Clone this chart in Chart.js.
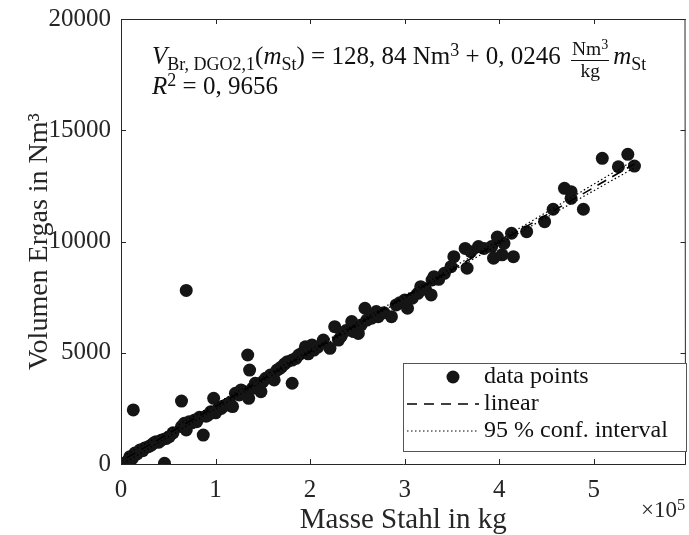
<!DOCTYPE html>
<html>
<head>
<meta charset="utf-8">
<script src="https://cdn.jsdelivr.net/npm/chart.js@4.4.1/dist/chart.umd.min.js"></script>
<style>
  html, body { margin: 0; padding: 0; background: #fff; overflow: hidden; }
  #wrap { position: relative; width: 689px; height: 535px; overflow: hidden; }
  #chart { position: absolute; left: 0; top: 0; }
  .tx { position: absolute; font-family: "Liberation Serif", serif; color: #111; white-space: nowrap; line-height: 1; }
  .tx sub { font-size: 0.72em; vertical-align: -0.3em; }
  .tx sup { font-size: 0.72em; vertical-align: 0.45em; }
  .frac { display: inline-block; vertical-align: middle; text-align: center; font-size: 0.78em; margin: 0 4px; }
  .frac span { display: block; padding: 0 1px; }
  .frac .num { border-bottom: 1px solid #111; padding-bottom: 1px; }
  #expo { color: #262626; }
</style>
</head>
<body>
<div id="wrap">
  <canvas id="chart" width="692" height="535"></canvas>
  <div class="tx" id="formula" style="left:152px; top:37px; font-size:25px;">
    <i>V</i><sub>Br, DGO2,1</sub>(<i>m</i><sub>St</sub>) = 128, 84 Nm<sup>3</sup> + 0, 0246
    <span class="frac"><span class="num">Nm<sup>3</sup></span><span>kg</span></span><i>m</i><sub>St</sub>
  </div>
  <div class="tx" id="r2" style="left:152px; top:71px; font-size:25px;"><i>R</i><sup>2</sup> = 0, 9656</div>
  <div class="tx" id="expo" style="left:641px; top:497px; font-size:23px;">&times;10<sup>5</sup></div>
</div>
<script>
// mass of steel (kg) and gas volume (Nm3)
var massKg = [
  6000, 9400, 12000, 14700, 17000, 20000, 23000, 25000, 29000, 32000,
  35000, 37000, 40000, 43000, 46000, 48000, 51000, 55000, 13000, 8000,
  64000, 64000, 67000, 69000, 70000, 69000, 72000, 75000, 78000, 80000,
  83000, 87000, 90000, 92000, 95000, 98000, 100000, 102000, 106000, 108000,
  111000, 115000, 118000, 121000, 125000, 127000, 130000, 134000, 136000, 135000,
  139000, 142000, 145000, 148000, 150000, 153000, 158000, 162000, 165000, 168000,
  170000, 173000, 176000, 181000, 181000, 185000, 188000, 192000, 195000, 195000,
  198000, 202000, 204000, 208000, 214000, 221000, 226000, 230000, 233000, 238000,
  244000, 246000, 251000, 254000, 258000, 260000, 265000, 270000, 272000, 278000,
  286000, 291000, 295000, 300000, 303000, 308000, 314000, 317000, 322000, 328000,
  329000, 331000, 336000, 342000, 349000, 352000, 364000, 366000, 370000, 378000,
  384000, 392000, 394000, 398000, 403000, 405000, 413000, 415000, 429000, 448000,
  457000, 469000, 476000, 476000, 489000, 509000, 536000, 526000, 543000
];
var volumeNm3 = [
  100, 330, 250, 490, 450, 630, 600, 720, 780, 850,
  950, 1000, 980, 1080, 30, 1150, 1230, 1400, 2430, 180,
  2830, 1680, 1830, 1530, 1750, 7800, 1900, 1850, 1980, 1900,
  2100, 1300, 2150, 2200, 2350, 2950, 2300, 2430, 2500, 2600,
  2650, 2750, 2580, 3180, 3100, 3330, 3250, 4900, 4220, 2950,
  3400, 3630, 3550, 3250, 3700, 3850, 4000, 3780, 4220, 4300,
  4370, 4500, 4600, 3630, 4670, 4750, 4900, 5000, 5120, 5270,
  4950, 5350, 5120, 5250, 5570, 5200, 6170, 5570, 5750, 6000,
  6400, 5950, 5870, 6250, 7000, 6470, 6550, 6850, 6620, 6800,
  6620, 7150, 7250, 7370, 7000, 7450, 7670, 7970, 7850, 7600,
  8270, 8420, 8300, 8570, 8870, 9320, 9690, 8800, 9540, 9770,
  9690, 9770, 9250, 10200, 9400, 9920, 10370, 9320, 10440, 10890,
  11450, 12390, 12240, 11940, 11450, 13740, 13920, 13360, 13390
];

// linear fit and 95 % confidence bounds
var fitMassKg = [6000, 100000, 200000, 270000, 350000, 450000, 543000];
var fitLinear = [276, 2589, 5049, 6771, 8739, 11199, 13487];
var fitUpper  = [440, 2700, 5125, 6837, 8815, 11315, 13660];
var fitLower  = [112, 2478, 4973, 6705, 8663, 11083, 13314];

var xTicks = [0, 100000, 200000, 300000, 400000, 500000];
var yTicks = [0, 5000, 10000, 15000, 20000];

var axisColor = '#262626';
var serif = '"Liberation Serif", serif';

function pairs(xs, ys) {
  return xs.map(function (x, i) { return { x: x, y: ys[i] }; });
}

// box with inward tick marks, like the original figure
var frame = {
  id: 'frame',
  afterDatasetsDraw: function (chart) {
    var ctx = chart.ctx, a = chart.chartArea;
    var sx = chart.scales.x, sy = chart.scales.y;
    var len = 5;
    ctx.save();
    ctx.strokeStyle = axisColor;
    ctx.lineWidth = 1;
    ctx.beginPath();
    ctx.moveTo(a.right, a.top + 0.5); ctx.lineTo(a.left + 0.5, a.top + 0.5);
    ctx.lineTo(a.left + 0.5, a.bottom + 0.5); ctx.lineTo(a.right, a.bottom + 0.5);
    ctx.lineTo(a.right - 0.5, a.top);
    xTicks.forEach(function (v) {
      var px = Math.round(sx.getPixelForValue(v)) + 0.5;
      ctx.moveTo(px, a.bottom); ctx.lineTo(px, a.bottom - len);
      ctx.moveTo(px, a.top); ctx.lineTo(px, a.top + len);
    });
    yTicks.forEach(function (v) {
      var py = Math.round(sy.getPixelForValue(v)) + 0.5;
      ctx.moveTo(a.left, py); ctx.lineTo(a.left + len, py);
      ctx.moveTo(a.right, py); ctx.lineTo(a.right - len, py);
    });
    ctx.stroke();
    ctx.restore();
  }
};

// legend box in the lower right corner
var boxLegend = {
  id: 'boxLegend',
  afterDraw: function (chart) {
    var ctx = chart.ctx;
    var ds = chart.data.datasets;
    var bx = 403.5, by = 363.5, bw = 283, bh = 88;
    var rows = [377, 404, 431];
    ctx.save();
    ctx.fillStyle = '#fff';
    ctx.fillRect(bx, by, bw, bh);
    ctx.strokeStyle = '#555';
    ctx.lineWidth = 1;
    ctx.strokeRect(bx, by, bw, bh);

    ctx.fillStyle = ds[0].backgroundColor;
    ctx.beginPath();
    ctx.arc(453, rows[0], ds[0].pointRadius, 0, Math.PI * 2);
    ctx.fill();

    [1, 2].forEach(function (k, j) {
      ctx.strokeStyle = ds[k].borderColor;
      ctx.lineWidth = ds[k].borderWidth;
      ctx.setLineDash(ds[k].borderDash);
      ctx.beginPath();
      ctx.moveTo(407, rows[j + 1]);
      ctx.lineTo(479, rows[j + 1]);
      ctx.stroke();
    });
    ctx.setLineDash([]);

    ctx.fillStyle = '#111';
    ctx.font = '24px ' + serif;
    ctx.textBaseline = 'middle';
    ctx.fillText('data points', 484, rows[0]);
    ctx.fillText('linear', 484, rows[1]);
    ctx.fillText('95 % conf. interval', 484, rows[2]);
    ctx.restore();
  }
};

new Chart(document.getElementById('chart'), {
  type: 'scatter',
  data: {
    datasets: [
      {
        label: 'data points',
        data: pairs(massKg, volumeNm3),
        backgroundColor: '#151515',
        borderColor: '#151515',
        pointRadius: 6.5,
        pointHoverRadius: 6.5,
        borderWidth: 0,
        order: 2
      },
      {
        label: 'linear',
        type: 'line',
        data: pairs(fitMassKg, fitLinear),
        borderColor: '#000',
        borderWidth: 1.6,
        borderDash: [10, 7],
        pointRadius: 0,
        fill: false,
        order: 1
      },
      {
        label: '95 % conf. interval',
        type: 'line',
        data: pairs(fitMassKg, fitUpper),
        borderColor: '#000',
        borderWidth: 1.2,
        borderDash: [1.5, 2.5],
        pointRadius: 0,
        fill: false,
        cubicInterpolationMode: 'monotone',
        order: 1
      },
      {
        label: 'lower bound',
        type: 'line',
        data: pairs(fitMassKg, fitLower),
        borderColor: '#000',
        borderWidth: 1.2,
        borderDash: [1.5, 2.5],
        pointRadius: 0,
        fill: false,
        cubicInterpolationMode: 'monotone',
        order: 1
      }
    ]
  },
  options: {
    responsive: false,
    animation: false,
    devicePixelRatio: 1,
    layout: { padding: { top: 19, right: 2, left: 0, bottom: 0 } },
    plugins: {
      legend: { display: false },
      tooltip: { enabled: false }
    },
    scales: {
      x: {
        type: 'linear',
        min: 0,
        max: 597000,
        grid: { display: false, drawTicks: false },
        border: { display: false },
        afterBuildTicks: function (scale) {
          scale.ticks = xTicks.map(function (v) { return { value: v }; });
        },
        afterFit: function (scale) {
          scale.height = 71;
          scale.paddingLeft = 0;
          scale.paddingRight = 0;
        },
        ticks: {
          color: axisColor,
          font: { family: serif, size: 25 },
          padding: 11,
          maxRotation: 0,
          callback: function (v) { return String(v / 100000); }
        },
        title: {
          display: true,
          text: 'Masse Stahl in kg',
          color: axisColor,
          font: { family: serif, size: 29 },
          padding: { top: 0, bottom: -3 }
        }
      },
      y: {
        type: 'linear',
        min: 0,
        max: 20000,
        grid: { display: false, drawTicks: false },
        border: { display: false },
        afterBuildTicks: function (scale) {
          scale.ticks = yTicks.map(function (v) { return { value: v }; });
        },
        afterFit: function (scale) {
          scale.width = 121;
          scale.paddingTop = 0;
          scale.paddingBottom = 0;
        },
        ticks: {
          color: axisColor,
          font: { family: serif, size: 25 },
          padding: 10,
          callback: function (v) { return String(v); }
        },
        title: {
          display: true,
          text: 'Volumen Ergas in Nm³',
          color: axisColor,
          font: { family: serif, size: 28 },
          padding: { top: 23, bottom: 0 }
        }
      }
    }
  },
  plugins: [frame, boxLegend]
});
</script>
</body>
</html>
